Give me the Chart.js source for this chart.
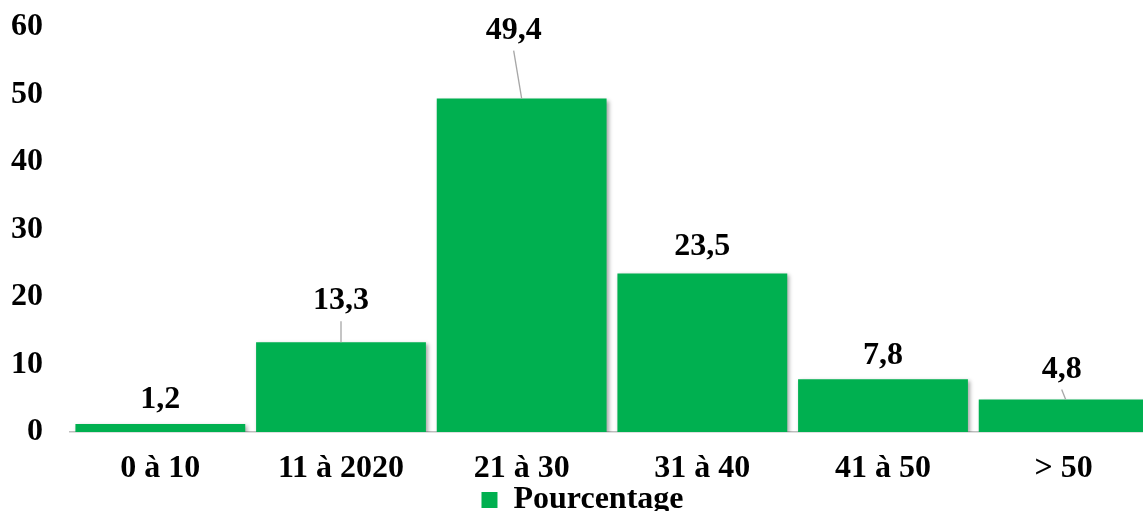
<!DOCTYPE html>
<html>
<head>
<meta charset="utf-8">
<script src="https://cdn.jsdelivr.net/npm/chart.js@4.4.0/dist/chart.umd.min.js"></script>
<style>
html,body{margin:0;padding:0;background:#fff;overflow:hidden;}
#wrap{width:1156px;height:526px;position:relative;}
</style>
</head>
<body>
<div id="wrap"><canvas id="c"></canvas></div>
<script>
const categories = ['0 à 10', '11 à 2020', '21 à 30', '31 à 40', '41 à 50', '> 50'];
const pourcentage = [1.2, 13.3, 49.4, 23.5, 7.8, 4.8];
const valueLabels = ['1,2', '13,3', '49,4', '23,5', '7,8', '4,8'];
const yTicks = [0, 10, 20, 30, 40, 50, 60];

const FONT = "'Liberation Serif', 'Times New Roman', serif";

const labelPlugin = {
  id: 'valueLabels',
  afterDatasetsDraw(chart, args, opts) {
    const ctx = chart.ctx;
    const meta = chart.getDatasetMeta(0);
    ctx.save();
    ctx.font = 'bold 32px ' + FONT;
    ctx.textAlign = 'center';
    ctx.textBaseline = 'middle';
    meta.data.forEach((bar, i) => {
      const o = opts.offsets[i];
      const lx = bar.x + o.dx;
      const ly = bar.y - o.dy;
      if (o.leader) {
        ctx.strokeStyle = '#A6A6A6';
        ctx.lineWidth = 1.3;
        ctx.beginPath();
        ctx.moveTo(lx, ly + 20);
        ctx.lineTo(bar.x + o.leaderEndDx, bar.y);
        ctx.stroke();
      }
      ctx.fillStyle = '#000';
      ctx.fillText(valueLabels[i], lx, ly);
    });
    ctx.restore();
  }
};

const shadowPlugin = {
  id: 'barShadow',
  beforeDatasetsDraw(chart) {
    const ctx = chart.ctx;
    ctx.save();
    ctx.shadowColor = 'rgba(0,0,0,0.35)';
    ctx.shadowBlur = 4;
    ctx.shadowOffsetX = 2;
    ctx.shadowOffsetY = 2;
  },
  afterDatasetsDraw(chart) {
    chart.ctx.restore();
  }
};

new Chart(document.getElementById('c'), {
  type: 'bar',
  data: {
    labels: categories,
    datasets: [{
      label: 'Pourcentage',
      data: pourcentage,
      backgroundColor: '#00B050',
      borderWidth: 0,
      barPercentage: 0.94,
      categoryPercentage: 1.0
    }]
  },
  plugins: [shadowPlugin, labelPlugin],
  options: {
    responsive: true,
    maintainAspectRatio: false,
    animation: false,
    layout: { padding: { left: 11, right: 2, top: 0, bottom: 0 } },
    plugins: {
      legend: {
        position: 'bottom',
        labels: {
          boxWidth: 16,
          boxHeight: 16,
          padding: 0,
          color: '#000',
          font: { family: FONT, size: 32, weight: 'bold' }
        }
      },
      tooltip: { enabled: false },
      valueLabels: {
        offsets: [
          { dx: 0, dy: 24, leader: false },
          { dx: 0, dy: 41, leader: true, leaderEndDx: 0 },
          { dx: -8, dy: 68, leader: true, leaderEndDx: 0 },
          { dx: 0, dy: 27, leader: false },
          { dx: 0, dy: 24, leader: false },
          { dx: -2, dy: 30, leader: true, leaderEndDx: 2 }
        ]
      }
    },
    scales: {
      x: {
        afterFit(scale) { scale.height = 52; },
        grid: { display: false, drawTicks: false },
        border: { display: true, color: '#BFBFBF', width: 1.5 },
        ticks: {
          color: '#000',
          padding: 21,
          font: { family: FONT, size: 32, weight: 'bold', lineHeight: 1 }
        }
      },
      y: {
        min: 0,
        max: 60,
        afterFit(scale) { scale.width = 59; scale.paddingTop = 27; scale.paddingBottom = 0; },
        afterBuildTicks(axis) { axis.ticks = yTicks.map(v => ({ value: v })); },
        grid: { display: false, drawTicks: false },
        border: { display: false },
        ticks: {
          color: '#000',
          padding: 27,
          font: { family: FONT, size: 32, weight: 'bold', lineHeight: 1 }
        }
      }
    }
  }
});
</script>
</body>
</html>
